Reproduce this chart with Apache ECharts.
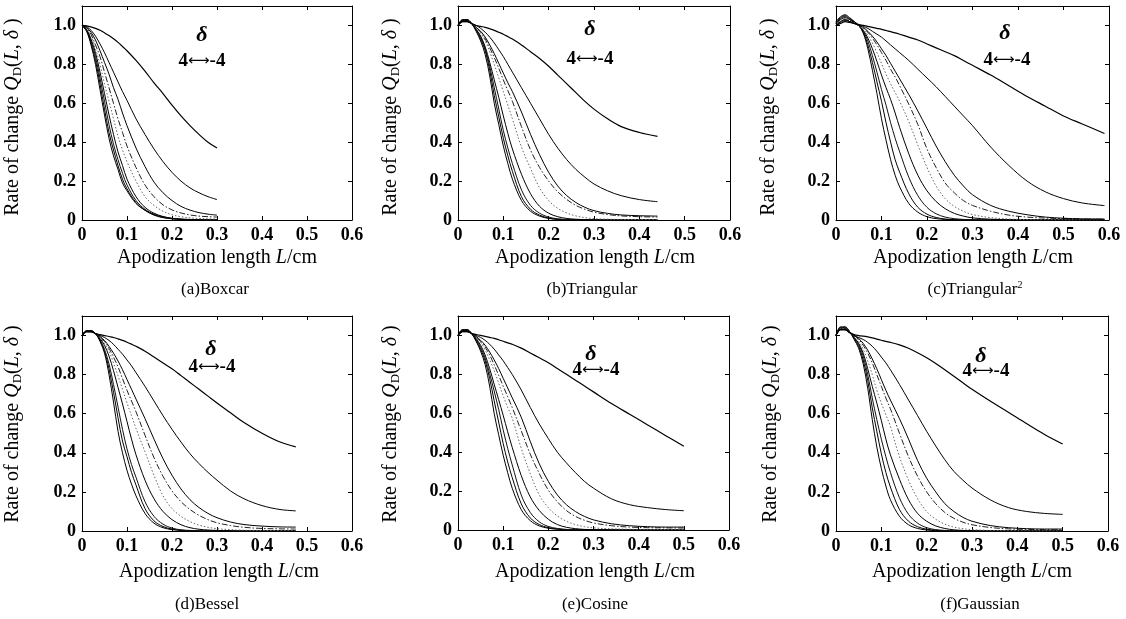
<!DOCTYPE html>
<html><head><meta charset="utf-8">
<script src="https://cdn.jsdelivr.net/npm/echarts@6/dist/echarts.min.js"></script>
<style>html,body{margin:0;padding:0;background:#fff}#c{width:1126px;height:619px}</style>
</head><body><div id="c"></div><script>
// ---------- DATA ----------
// Curves are ordered delta = 4 (innermost, left) ... delta = -4 (outermost, right)
const boxcarX = [0,0.01,0.02,0.03,0.04,0.05,0.06,0.07,0.08,0.09,0.10,0.12,0.14,0.16,0.18,0.20,0.22,0.24,0.26,0.28,0.30];
const boxcarY = [
  [1.0,0.97,0.9,0.8,0.67,0.54,0.42,0.33,0.26,0.19,0.15,0.085,0.05,0.025,0.012,0.006,0.003,0.001,0,0,0],
  [1.0,0.975,0.91,0.82,0.70,0.57,0.45,0.36,0.28,0.21,0.16,0.09,0.05,0.027,0.014,0.007,0.003,0.001,0,0,0],
  [1.0,0.978,0.92,0.84,0.73,0.61,0.49,0.39,0.31,0.24,0.18,0.10,0.055,0.03,0.016,0.008,0.004,0.002,0.001,0,0],
  [1.0,0.98,0.93,0.86,0.76,0.65,0.54,0.44,0.35,0.28,0.21,0.12,0.065,0.035,0.018,0.009,0.005,0.003,0.002,0.001,0.001],
  [1.0,0.985,0.945,0.88,0.80,0.70,0.61,0.52,0.43,0.36,0.30,0.20,0.12,0.075,0.045,0.027,0.017,0.011,0.008,0.006,0.005],
  [1.0,0.988,0.955,0.90,0.84,0.76,0.68,0.60,0.52,0.45,0.38,0.27,0.18,0.12,0.078,0.052,0.036,0.026,0.02,0.017,0.015],
  [1.0,0.99,0.965,0.925,0.87,0.81,0.75,0.68,0.62,0.55,0.485,0.37,0.275,0.195,0.14,0.1,0.07,0.051,0.038,0.03,0.025],
  [1.0,0.995,0.975,0.945,0.905,0.86,0.81,0.76,0.71,0.66,0.615,0.52,0.44,0.365,0.3,0.245,0.2,0.165,0.14,0.12,0.105],
  [1.0,0.998,0.993,0.985,0.975,0.962,0.948,0.932,0.913,0.892,0.87,0.82,0.765,0.705,0.65,0.59,0.535,0.485,0.44,0.4,0.37]
];
const triangularX = [0,0.01,0.02,0.03,0.04,0.05,0.06,0.07,0.08,0.09,0.10,0.11,0.12,0.14,0.16,0.18,0.20,0.22,0.24,0.26,0.28,0.30,0.33,0.36,0.40,0.44];
const triangularY = [
  [1.0,1.03,1.03,1.01,0.97,0.92,0.85,0.74,0.60,0.49,0.38,0.29,0.21,0.10,0.045,0.02,0.008,0.003,0.001,0,0,0,0,0,0,0],
  [1.0,1.03,1.03,1.01,0.975,0.93,0.87,0.77,0.64,0.53,0.42,0.33,0.25,0.12,0.055,0.025,0.01,0.004,0.002,0.001,0,0,0,0,0,0],
  [1.0,1.025,1.025,1.01,0.98,0.94,0.88,0.79,0.68,0.57,0.46,0.37,0.29,0.155,0.075,0.035,0.015,0.006,0.003,0.001,0,0,0,0,0,0],
  [1.0,1.025,1.025,1.01,0.98,0.945,0.89,0.81,0.72,0.63,0.535,0.445,0.365,0.235,0.135,0.07,0.035,0.017,0.008,0.004,0.002,0.001,0,0,0,0],
  [1.0,1.02,1.02,1.01,0.985,0.96,0.92,0.865,0.80,0.73,0.66,0.59,0.52,0.375,0.265,0.165,0.1,0.06,0.036,0.021,0.012,0.007,0.004,0.003,0.002,0.002],
  [1.0,1.02,1.02,1.01,0.99,0.965,0.93,0.885,0.835,0.78,0.72,0.665,0.61,0.48,0.36,0.27,0.2,0.145,0.105,0.075,0.055,0.04,0.028,0.021,0.017,0.015],
  [1.0,1.02,1.02,1.01,0.99,0.97,0.94,0.90,0.855,0.805,0.755,0.705,0.66,0.555,0.44,0.335,0.245,0.175,0.125,0.09,0.065,0.048,0.034,0.026,0.022,0.02],
  [1.0,1.02,1.02,1.01,1.0,0.985,0.965,0.94,0.91,0.875,0.84,0.80,0.76,0.68,0.6,0.52,0.44,0.37,0.31,0.26,0.22,0.185,0.15,0.125,0.105,0.094],
  [1.0,1.02,1.02,1.01,1.0,0.995,0.99,0.983,0.975,0.965,0.955,0.943,0.93,0.9,0.865,0.83,0.79,0.745,0.7,0.655,0.61,0.57,0.52,0.48,0.45,0.43]
];
const triangular2X = [0,0.01,0.02,0.03,0.04,0.05,0.06,0.07,0.08,0.09,0.10,0.11,0.12,0.13,0.14,0.16,0.18,0.20,0.22,0.24,0.26,0.28,0.30,0.34,0.38,0.42,0.46,0.50,0.54,0.59];
const triangular2Y = [
  [1.02,1.045,1.055,1.04,1.02,1.0,0.96,0.88,0.77,0.65,0.52,0.41,0.31,0.23,0.17,0.085,0.04,0.017,0.007,0.003,0.001,0,0,0,0,0,0,0,0,0],
  [1.015,1.04,1.05,1.035,1.02,1.0,0.965,0.9,0.81,0.71,0.61,0.5,0.4,0.31,0.245,0.135,0.065,0.03,0.013,0.005,0.002,0.001,0,0,0,0,0,0,0,0],
  [1.01,1.035,1.045,1.03,1.015,1.0,0.97,0.92,0.845,0.76,0.67,0.59,0.5,0.42,0.35,0.22,0.125,0.065,0.032,0.015,0.007,0.003,0.001,0,0,0,0,0,0,0],
  [1.01,1.03,1.04,1.03,1.015,1.0,0.975,0.935,0.88,0.815,0.745,0.68,0.62,0.55,0.475,0.34,0.23,0.15,0.095,0.058,0.034,0.02,0.011,0.004,0.002,0.001,0,0,0,0],
  [1.0,1.025,1.035,1.025,1.015,1.0,0.98,0.95,0.91,0.86,0.805,0.75,0.70,0.655,0.61,0.505,0.385,0.27,0.175,0.11,0.07,0.045,0.028,0.012,0.005,0.002,0.001,0.001,0,0],
  [1.0,1.02,1.03,1.02,1.01,1.0,0.985,0.965,0.935,0.9,0.86,0.82,0.775,0.735,0.69,0.595,0.49,0.365,0.27,0.19,0.14,0.1,0.075,0.045,0.025,0.015,0.01,0.007,0.005,0.004],
  [1.0,1.02,1.03,1.02,1.01,1.0,0.99,0.97,0.945,0.915,0.88,0.845,0.805,0.765,0.725,0.645,0.56,0.47,0.38,0.3,0.23,0.175,0.13,0.075,0.045,0.027,0.015,0.009,0.006,0.005],
  [1.0,1.015,1.025,1.02,1.01,1.005,0.995,0.985,0.97,0.955,0.94,0.92,0.9,0.88,0.86,0.82,0.775,0.73,0.685,0.635,0.585,0.535,0.485,0.375,0.28,0.2,0.145,0.11,0.088,0.074],
  [1.0,1.01,1.02,1.015,1.01,1.005,1.0,0.995,0.99,0.985,0.98,0.974,0.968,0.962,0.955,0.94,0.925,0.905,0.885,0.865,0.845,0.82,0.795,0.745,0.69,0.635,0.585,0.535,0.495,0.445]
];
const besselX = [0,0.01,0.02,0.03,0.04,0.05,0.06,0.07,0.08,0.09,0.10,0.11,0.12,0.14,0.16,0.18,0.20,0.22,0.24,0.26,0.28,0.30,0.33,0.36,0.40,0.44,0.475];
const besselY = [
  [1.0,1.025,1.025,1.01,0.97,0.91,0.80,0.66,0.51,0.40,0.31,0.24,0.18,0.09,0.04,0.017,0.007,0.003,0.001,0,0,0,0,0,0,0,0],
  [1.0,1.025,1.025,1.01,0.975,0.92,0.83,0.71,0.58,0.46,0.38,0.30,0.235,0.115,0.052,0.023,0.01,0.004,0.002,0.001,0,0,0,0,0,0,0],
  [1.0,1.02,1.02,1.01,0.98,0.93,0.855,0.75,0.635,0.52,0.42,0.34,0.275,0.15,0.075,0.035,0.015,0.006,0.003,0.001,0,0,0,0,0,0,0],
  [1.0,1.02,1.02,1.01,0.985,0.95,0.895,0.82,0.735,0.65,0.56,0.47,0.39,0.26,0.165,0.1,0.058,0.032,0.017,0.009,0.005,0.003,0.001,0,0,0,0],
  [1.0,1.02,1.02,1.01,0.99,0.96,0.92,0.86,0.795,0.725,0.655,0.59,0.525,0.405,0.285,0.18,0.115,0.075,0.048,0.03,0.019,0.012,0.007,0.004,0.003,0.002,0.002],
  [1.0,1.02,1.02,1.01,0.99,0.97,0.935,0.89,0.84,0.78,0.72,0.665,0.61,0.49,0.375,0.28,0.205,0.15,0.11,0.08,0.058,0.042,0.028,0.019,0.013,0.011,0.01],
  [1.0,1.02,1.02,1.01,0.995,0.975,0.945,0.91,0.87,0.825,0.775,0.725,0.675,0.575,0.47,0.37,0.285,0.215,0.16,0.12,0.09,0.068,0.046,0.033,0.025,0.021,0.02],
  [1.0,1.02,1.02,1.01,1.0,0.99,0.975,0.955,0.93,0.905,0.875,0.845,0.81,0.74,0.665,0.59,0.52,0.455,0.395,0.345,0.3,0.26,0.205,0.165,0.13,0.11,0.103],
  [1.0,1.02,1.02,1.01,1.005,1.0,0.995,0.99,0.983,0.975,0.966,0.956,0.945,0.92,0.89,0.86,0.83,0.795,0.76,0.725,0.69,0.655,0.605,0.555,0.5,0.455,0.43]
];
const cosineX = [0,0.01,0.02,0.03,0.04,0.05,0.06,0.07,0.08,0.09,0.10,0.11,0.12,0.14,0.16,0.18,0.20,0.22,0.24,0.26,0.28,0.30,0.34,0.38,0.42,0.46,0.50];
const cosineY = [
  [1.0,1.03,1.03,1.01,0.97,0.92,0.85,0.74,0.60,0.49,0.385,0.295,0.215,0.105,0.048,0.021,0.009,0.004,0.002,0.001,0,0,0,0,0,0,0],
  [1.0,1.03,1.03,1.01,0.975,0.93,0.87,0.78,0.665,0.555,0.445,0.35,0.27,0.135,0.062,0.028,0.012,0.005,0.002,0.001,0,0,0,0,0,0,0],
  [1.0,1.025,1.025,1.01,0.98,0.94,0.885,0.805,0.715,0.62,0.515,0.42,0.335,0.18,0.09,0.042,0.018,0.008,0.003,0.001,0,0,0,0,0,0,0],
  [1.0,1.025,1.025,1.01,0.985,0.95,0.9,0.83,0.75,0.67,0.59,0.505,0.425,0.28,0.17,0.1,0.055,0.028,0.014,0.007,0.003,0.002,0.001,0,0,0,0],
  [1.0,1.02,1.02,1.01,0.99,0.965,0.925,0.875,0.82,0.755,0.69,0.63,0.575,0.42,0.29,0.18,0.115,0.072,0.045,0.028,0.017,0.011,0.006,0.004,0.003,0.002,0.002],
  [1.0,1.02,1.02,1.01,0.99,0.97,0.94,0.9,0.85,0.795,0.74,0.685,0.63,0.51,0.39,0.29,0.205,0.145,0.1,0.07,0.05,0.036,0.022,0.015,0.012,0.011,0.01],
  [1.0,1.02,1.02,1.01,0.995,0.975,0.95,0.915,0.875,0.83,0.78,0.73,0.68,0.58,0.455,0.34,0.25,0.18,0.13,0.095,0.07,0.052,0.032,0.022,0.017,0.015,0.015],
  [1.0,1.02,1.02,1.01,1.0,0.99,0.975,0.955,0.93,0.9,0.87,0.835,0.8,0.72,0.63,0.545,0.47,0.4,0.345,0.295,0.25,0.215,0.16,0.13,0.115,0.105,0.099],
  [1.0,1.02,1.02,1.01,1.005,1.0,0.995,0.99,0.985,0.978,0.97,0.962,0.955,0.935,0.91,0.885,0.86,0.83,0.8,0.77,0.74,0.71,0.65,0.595,0.54,0.485,0.43]
];
const gaussianX = [0,0.01,0.02,0.03,0.04,0.05,0.06,0.07,0.08,0.09,0.10,0.11,0.12,0.14,0.16,0.18,0.20,0.22,0.24,0.26,0.28,0.30,0.34,0.38,0.42,0.46,0.50];
const gaussianY = [
  [1.0,1.045,1.045,1.02,0.98,0.935,0.855,0.73,0.57,0.43,0.32,0.23,0.16,0.075,0.032,0.013,0.005,0.002,0.001,0,0,0,0,0,0,0,0],
  [1.0,1.04,1.04,1.02,0.985,0.945,0.875,0.77,0.63,0.51,0.395,0.3,0.225,0.11,0.05,0.022,0.009,0.004,0.001,0,0,0,0,0,0,0,0],
  [1.0,1.04,1.04,1.02,0.99,0.955,0.895,0.8,0.68,0.57,0.47,0.38,0.3,0.17,0.085,0.04,0.017,0.007,0.003,0.001,0,0,0,0,0,0,0],
  [1.0,1.035,1.035,1.015,0.99,0.96,0.91,0.83,0.74,0.655,0.565,0.47,0.39,0.265,0.16,0.09,0.05,0.026,0.013,0.006,0.003,0.001,0,0,0,0,0],
  [1.0,1.035,1.035,1.015,0.995,0.97,0.93,0.87,0.8,0.72,0.655,0.595,0.535,0.38,0.26,0.165,0.1,0.06,0.035,0.02,0.012,0.007,0.003,0.002,0.001,0.001,0],
  [1.0,1.03,1.03,1.015,1.0,0.98,0.95,0.91,0.86,0.8,0.74,0.68,0.625,0.5,0.38,0.28,0.2,0.14,0.095,0.065,0.045,0.032,0.018,0.011,0.008,0.007,0.006],
  [1.0,1.03,1.03,1.015,1.0,0.985,0.96,0.925,0.88,0.83,0.775,0.72,0.67,0.575,0.47,0.36,0.27,0.2,0.14,0.1,0.07,0.05,0.028,0.017,0.012,0.01,0.01],
  [1.0,1.03,1.03,1.015,1.0,0.99,0.98,0.965,0.945,0.92,0.89,0.86,0.825,0.75,0.67,0.59,0.51,0.435,0.365,0.305,0.26,0.22,0.16,0.12,0.1,0.09,0.085],
  [1.0,1.03,1.03,1.015,1.005,1.0,0.997,0.993,0.988,0.982,0.976,0.97,0.965,0.952,0.935,0.912,0.886,0.857,0.825,0.792,0.758,0.725,0.665,0.608,0.55,0.494,0.445]
];
const captions = ['(a)Boxcar','(b)Triangular','(c)Triangular','(d)Bessel','(e)Cosine','(f)Gaussian'];
const xTickValues = [0,0.1,0.2,0.3,0.4,0.5,0.6];
const yTickValues = [0,0.2,0.4,0.6,0.8,1.0];

// ---------- LAYOUT / STYLE ----------
const FONT = '"Liberation Serif","Times New Roman",serif';
const panelsX = [boxcarX, triangularX, triangular2X, besselX, cosineX, gaussianX];
const panelsY = [boxcarY, triangularY, triangular2Y, besselY, cosineY, gaussianY];
const gridBoxes = [
  {left:82, top:6, width:270, height:214},
  {left:458, top:6, width:272, height:214},
  {left:836, top:6, width:273, height:214},
  {left:82, top:316, width:270, height:215},
  {left:458, top:316, width:271, height:214},
  {left:836, top:316, width:272, height:215}
];
// text anchor positions [yNameX, yNameY, xNameX, xNameY, captionX, captionY, deltaX, deltaY, arrowX, arrowY]
const textPos = [
  [13,117, 217,258, 215,290, 202,35, 202,61],
  [391,117, 595,258, 592,290, 590,29, 590,59],
  [769,117, 973,258, 975,290, 1005,33, 1007,60],
  [13,424, 219,572, 207,605, 211,349, 212,367],
  [391,424, 595,572, 595,605, 591,354, 596,370],
  [771,424, 972,572, 980,605, 981,356, 986,371]
];
const lineStyles = [
  {color:'#000', width:1, type:'solid'},
  {color:'#000', width:1, type:'solid'},
  {color:'#111', width:1, type:'solid'},
  {color:'#000', width:1, type:'solid'},
  {color:'#666', width:1, type:[1.5,2]},
  {color:'#222', width:1, type:[6,2,1.5,2]},
  {color:'#000', width:1, type:'solid'},
  {color:'#000', width:1, type:'solid'},
  {color:'#000', width:1.2, type:'solid'}
];

const option = {animation:false, backgroundColor:'#fff', grid:[], xAxis:[], yAxis:[], series:[], graphic:[]};
const axisLineStyle = {show:true, onZero:false, lineStyle:{color:'#000', width:1}};
const tickStyle = {show:true, inside:true, length:4, lineStyle:{color:'#000', width:1}};

gridBoxes.forEach((g, k) => {
  option.grid.push(Object.assign({show:false, containLabel:false}, g));
  option.xAxis.push({
    gridIndex:k, type:'value', min:0, max:0.6, interval:0.1, position:'bottom',
    axisLine:axisLineStyle, axisTick:tickStyle, splitLine:{show:false},
    axisLabel:{color:'#000', fontFamily:FONT, fontSize:18, fontWeight:'bold', margin:6,
      formatter: v => xTickValues.some(t => Math.abs(t - v) < 1e-6) ? (v === 0 ? '0' : v.toFixed(1)) : ''}
  });
  option.xAxis.push({
    gridIndex:k, type:'value', min:0, max:0.6, interval:0.1, position:'top',
    axisLine:axisLineStyle, axisTick:tickStyle, splitLine:{show:false}, axisLabel:{show:false}
  });
  option.yAxis.push({
    gridIndex:k, type:'value', min:0, max:1.1, interval:0.2, position:'left',
    axisLine:axisLineStyle, axisTick:tickStyle, splitLine:{show:false},
    axisLabel:{color:'#000', fontFamily:FONT, fontSize:18, fontWeight:'bold', margin:6,
      formatter: v => yTickValues.some(t => Math.abs(t - v) < 1e-6) ? (v === 0 ? '0' : v.toFixed(1)) : ''}
  });
  option.yAxis.push({
    gridIndex:k, type:'value', min:0, max:1.1, interval:0.2, position:'right',
    axisLine:axisLineStyle, axisTick:tickStyle, splitLine:{show:false}, axisLabel:{show:false}
  });
  const X = panelsX[k];
  panelsY[k].forEach((Y, j) => {
    option.series.push({
      type:'line', xAxisIndex:2*k, yAxisIndex:2*k, showSymbol:false, symbol:'none',
      smooth:0.35, clip:true, silent:true,
      lineStyle:lineStyles[j],
      data: X.map((x, i) => [x, Y[i]])
    });
  });

  const p = textPos[k];
  const base = {fill:'#000', fontFamily:FONT};
  option.graphic.push({
    type:'text', x:p[0], y:p[1], rotation:Math.PI/2, silent:true,
    style:Object.assign({}, base, {
      text:'{n|Rate of change }{i|Q}{s|D}{n|(}{i|L}{n|, }{i|δ}{n| )}',
      align:'center', verticalAlign:'middle', textAlign:'center', textVerticalAlign:'middle',
      fontSize:20,
      rich:{
        n:{fontFamily:FONT, fontSize:20, lineHeight:23, fill:'#000'},
        i:{fontFamily:FONT, fontSize:20, fontStyle:'italic', lineHeight:23, fill:'#000'},
        s:{fontFamily:FONT, fontSize:13, lineHeight:23, verticalAlign:'bottom', fill:'#000'}
      }
    })
  });
  option.graphic.push({
    type:'text', x:p[2], y:p[3], silent:true,
    style:Object.assign({}, base, {
      text:'{n|Apodization length }{i|L}{n|/cm}',
      align:'center', verticalAlign:'middle', textAlign:'center', textVerticalAlign:'middle',
      fontSize:20,
      rich:{
        n:{fontFamily:FONT, fontSize:20, fill:'#000'},
        i:{fontFamily:FONT, fontSize:20, fontStyle:'italic', fill:'#000'}
      }
    })
  });
  option.graphic.push({
    type:'text', x:p[4], y:p[5], silent:true,
    style:Object.assign({}, base, {
      text: k === 2 ? '{n|' + captions[k] + '}{sup|2}' : '{n|' + captions[k] + '}',
      align:'center', verticalAlign:'middle', textAlign:'center', textVerticalAlign:'middle',
      fontSize:17,
      rich:{
        n:{fontFamily:FONT, fontSize:17, lineHeight:20, fill:'#000'},
        sup:{fontFamily:FONT, fontSize:10, lineHeight:20, verticalAlign:'top', fill:'#000'}
      }
    })
  });
  option.graphic.push({
    type:'text', x:p[6], y:p[7], silent:true,
    style:Object.assign({}, base, {
      text:'δ', fontSize:22, fontStyle:'italic', fontWeight:'bold',
      align:'center', verticalAlign:'middle', textAlign:'center', textVerticalAlign:'middle'
    })
  });
  option.graphic.push({
    type:'text', x:p[8], y:p[9], silent:true,
    style:Object.assign({}, base, {
      text:'{b|4}{a|⟷}{b|-4}',
      align:'center', verticalAlign:'middle', textAlign:'center', textVerticalAlign:'middle',
      fontSize:19,
      rich:{
        b:{fontFamily:FONT, fontSize:19, fontWeight:'bold', fill:'#000', lineHeight:22},
        a:{fontFamily:'"DejaVu Sans",sans-serif', fontSize:15, fill:'#000', lineHeight:22}
      }
    })
  });
});

const chart = echarts.init(document.getElementById('c'), null, {renderer:'canvas'});
chart.setOption(option);
</script></body></html>
